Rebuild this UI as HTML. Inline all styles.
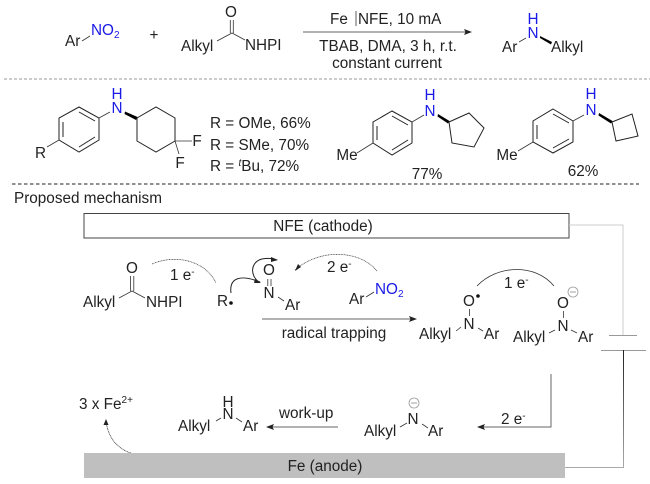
<!DOCTYPE html>
<html>
<head>
<meta charset="utf-8">
<style>
html,body{margin:0;padding:0;background:#fff;width:650px;height:484px;overflow:hidden}
svg{display:block}
text{font-family:"Liberation Sans",sans-serif;font-size:15.3px;fill:#222}
.b{fill:#1a1ae6}
.m{text-anchor:middle}
.l{stroke:#222;stroke-width:1;fill:none}
.t{stroke:#333;stroke-width:.8;fill:none}
.w{fill:#000;stroke:none}
</style>
</head>
<body>
<svg width="650" height="484" viewBox="0 0 650 484" xmlns="http://www.w3.org/2000/svg">
<defs>
<marker id="a" markerWidth="8" markerHeight="6" refX="7" refY="3" orient="auto" markerUnits="userSpaceOnUse"><path d="M0 0L8 3L0 6L1.5 3Z" fill="#222"/></marker>
<linearGradient id="g" x1="0" y1="0" x2="0" y2="1"><stop offset="0" stop-color="#222"/><stop offset="1" stop-color="#aaa"/></linearGradient>
</defs>

<!-- top reaction -->
<text x="65" y="46">Ar</text>
<line class="t" x1="82" y1="41" x2="90" y2="36"/>
<text x="91" y="35" class="b">NO<tspan font-size="10" dy="3" class="b">2</tspan></text>
<text x="154" y="40" class="m">+</text>
<text x="181" y="51">Alkyl</text>
<path class="t" d="M217 41L232 33L245 40"/>
<path class="t" d="M230.300 20V33M233.300 20V33"/>
<text x="231" y="17" class="m">O</text>
<text x="245" y="50">NHPI</text>

<text x="330" y="24">Fe</text>
<line x1="356" y1="11" x2="356" y2="26" stroke="#333" stroke-width=".8"/>
<text x="358" y="24">NFE, 10 mA</text>
<line class="t" x1="303" y1="32" x2="471" y2="32" marker-end="url(#a)"/>
<text x="388" y="51" class="m">TBAB, DMA, 3 h, r.t.</text>
<text x="387" y="68" class="m">constant current</text>

<text x="502" y="52">Ar</text>
<line class="t" x1="519" y1="42" x2="526" y2="38"/>
<text x="533" y="24" class="m b">H</text>
<text x="533" y="38" class="m b">N</text>
<path class="w" d="M540 36L552 42L551 44.500L540 38Z"/>
<text x="551" y="52">Alkyl</text>

<line x1="4" y1="79" x2="650" y2="79" stroke="#999" stroke-width="1" stroke-dasharray="3 2"/>

<!-- compound 1 -->
<path class="l" d="M79 107L99 118V140L79 152L59 140V118Z"/>
<path class="l" d="M79 112L95 121M95 137L79 147M63 122V137"/>
<line class="t" x1="99" y1="118" x2="110" y2="112"/>
<line class="t" x1="59" y1="140" x2="47" y2="147"/>
<text x="35" y="158">R</text>
<text x="117" y="99" class="m b">H</text>
<text x="117" y="113" class="m b">N</text>
<path class="w" d="M125 111.500L137.500 117L136 120L124.500 114Z"/>
<path class="l" d="M137 118L156 107L175 118V141L156 152L137 141Z"/>
<line class="t" x1="175" y1="141" x2="192" y2="141"/>
<line class="t" x1="175" y1="141" x2="179" y2="154"/>
<text x="197" y="146" class="m">F</text>
<text x="180" y="168" class="m">F</text>
<text x="210" y="128">R = OMe, 66%</text>
<text x="210" y="150">R = SMe, 70%</text>
<text x="210" y="171">R = <tspan font-size="10" dy="-5" font-style="italic">t</tspan><tspan dy="5">Bu, 72%</tspan></text>

<!-- compound 2 -->
<path class="l" d="M392 111L412 122V143L392 155L373 143V122Z"/>
<path class="l" d="M392 116L408 125M408 140L392 150M377 126V140"/>
<line class="t" x1="412" y1="122" x2="424" y2="115"/>
<line class="t" x1="373" y1="143" x2="357" y2="153"/>
<text x="347" y="160" class="m">Me</text>
<text x="430" y="100" class="m b">H</text>
<text x="430" y="116" class="m b">N</text>
<path class="w" d="M438 114L449.500 121L448 123.500L437.500 116.500Z"/>
<path class="l" d="M449 122L469 113L484 128L474 147L452 143Z"/>
<text x="427" y="179" class="m">77%</text>

<!-- compound 3 -->
<path class="l" d="M553 109L573 121V142L553 153L533 142V121Z"/>
<path class="l" d="M553 114L569 123M569 139L553 148M537 125V139"/>
<line class="t" x1="573" y1="121" x2="584" y2="115"/>
<line class="t" x1="533" y1="142" x2="518" y2="151"/>
<text x="507" y="160" class="m">Me</text>
<text x="591" y="99" class="m b">H</text>
<text x="591" y="115" class="m b">N</text>
<path class="w" d="M599 113L612.500 121L611 123.500L598.500 115.500Z"/>
<path class="l" d="M612 122L632 114L638 136L616 141Z"/>
<text x="583" y="176" class="m">62%</text>

<line x1="12" y1="184" x2="639" y2="184" stroke="#222" stroke-width="1" stroke-dasharray="3.500 2.500"/>

<text x="14" y="203">Proposed mechanism</text>

<!-- cathode -->
<rect x="84" y="213.500" width="485" height="24.500" fill="#fff" stroke="#444" stroke-width="1"/>
<text x="323" y="231" class="m">NFE (cathode)</text>
<path d="M569 225H623V335" fill="none" stroke="#ccc" stroke-width="1"/>
<line x1="609" y1="335.500" x2="637" y2="335.500" stroke="#999"/>
<line x1="601" y1="350.500" x2="646" y2="350.500" stroke="#999"/>
<rect x="623" y="350" width="1" height="117" fill="url(#g)"/>
<line x1="565" y1="467.500" x2="624" y2="467.500" stroke="#aaa"/>

<!-- mechanism row 1 -->
<text x="83" y="307">Alkyl</text>
<path class="t" d="M119 298L132 291L145 298"/>
<path class="t" d="M130.500 276V291M133.800 276V291"/>
<text x="132" y="273" class="m">O</text>
<text x="146" y="307">NHPI</text>
<text x="170" y="280">1 e<tspan font-size="10" dy="-5">-</tspan></text>
<path d="M152 264C175 254 205 260 216 283" fill="none" stroke="#333" stroke-width=".7" stroke-dasharray="1 .6"/>
<text x="217" y="306">R</text>
<circle cx="231" cy="303" r="1.800" fill="#111"/>
<path class="l" d="M231 293C229 278 240 274 260 282"/>
<path d="M255 279L261 283L254 283Z" fill="#222"/>
<path class="l" d="M259 282C250 276 250 262 262 259C267 258 272 258 277 260"/>
<path d="M271 257L278 260L271 262Z" fill="#222"/>
<text x="269" y="275" class="m">O</text>
<path class="t" d="M267.800 279V286M271 279V286"/>
<text x="269" y="298" class="m">N</text>
<line class="t" x1="278" y1="297" x2="284" y2="301"/>
<text x="285" y="310">Ar</text>
<text x="327" y="272">2 e<tspan font-size="10" dy="-5">-</tspan></text>
<path d="M377 271C360 250 320 248 295 270" fill="none" stroke="#333" stroke-width=".7" stroke-dasharray="1 .6"/>
<path d="M295 271L298 264L301 267Z" fill="#222"/>
<text x="349" y="304">Ar</text>
<line class="t" x1="366" y1="297" x2="374" y2="292"/>
<text x="375" y="294" class="b">NO<tspan font-size="10" dy="3" class="b">2</tspan></text>
<line class="t" x1="262" y1="319" x2="416" y2="319" marker-end="url(#a)"/>
<text x="334" y="338" class="m">radical trapping</text>

<text x="469" y="306" class="m">O</text>
<circle cx="478" cy="296" r="1.800" fill="#111"/>
<line class="t" x1="469.500" y1="309" x2="469.500" y2="316"/>
<text x="469" y="329" class="m">N</text>
<line class="t" x1="456" y1="331" x2="461" y2="327"/>
<line class="t" x1="478" y1="328" x2="483" y2="331"/>
<text x="419" y="339">Alkyl</text>
<text x="484" y="339">Ar</text>
<path class="t" d="M477 286C497 265 535 263 554 286"/>
<text x="504" y="288">1 e<tspan font-size="10" dy="-5">-</tspan></text>
<text x="563" y="308" class="m">O</text>
<circle cx="573" cy="292" r="5" fill="none" stroke="#999" stroke-width=".8"/>
<line x1="570" y1="292" x2="576" y2="292" stroke="#888" stroke-width=".8"/>
<line class="t" x1="563.500" y1="311" x2="563.500" y2="318"/>
<text x="563" y="331" class="m">N</text>
<line class="t" x1="549" y1="333" x2="555" y2="330"/>
<line class="t" x1="571" y1="330" x2="577" y2="333"/>
<text x="513" y="342">Alkyl</text>
<text x="578" y="342">Ar</text>

<!-- bottom row -->
<path d="M551 374V427H478" fill="none" stroke="#666" stroke-width="1" marker-end="url(#a)"/>
<text x="501" y="424">2 e<tspan font-size="10" dy="-5">-</tspan></text>
<text x="364" y="436">Alkyl</text>
<text x="413" y="424" class="m">N</text>
<circle cx="414" cy="403" r="5" fill="none" stroke="#999" stroke-width=".8"/>
<line x1="411" y1="403" x2="417" y2="403" stroke="#888" stroke-width=".8"/>
<line class="t" x1="400" y1="427" x2="407" y2="423"/>
<line class="t" x1="422" y1="424" x2="428" y2="428"/>
<text x="428" y="436">Ar</text>
<line class="t" x1="338" y1="427" x2="267" y2="427" marker-end="url(#a)"/>
<text x="279" y="418">work-up</text>
<text x="178" y="431">Alkyl</text>
<text x="228" y="407" class="m">H</text>
<text x="228" y="419" class="m">N</text>
<line class="t" x1="216" y1="421" x2="221" y2="418"/>
<line class="t" x1="236" y1="418" x2="242" y2="422"/>
<text x="243" y="431">Ar</text>
<text x="79" y="409">3 x Fe<tspan font-size="10" dy="-6">2+</tspan></text>
<path class="t" stroke-dasharray="1 .6" d="M134 454C118 450 108 438 106 421"/>
<path d="M106 419L103.500 425L108.500 425Z" fill="#222"/>

<rect x="84" y="453" width="481" height="25" fill="#bfbfbf"/>
<text x="325" y="471" class="m">Fe (anode)</text>
</svg>
</body>
</html>
